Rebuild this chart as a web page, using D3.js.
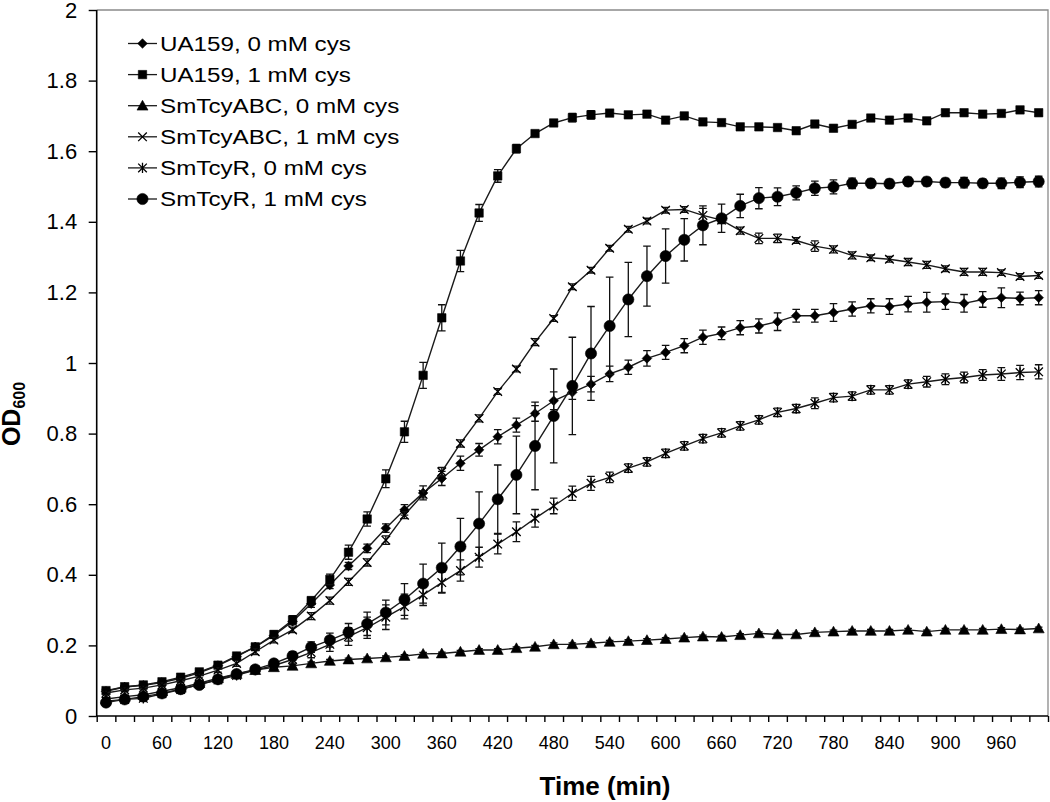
<!DOCTYPE html>
<html><head><meta charset="utf-8">
<script src="https://cdn.jsdelivr.net/npm/d3@7"></script>
<style>
html,body{margin:0;padding:0;background:#fff;}
svg text{font-family:"Liberation Sans",Arial,sans-serif;fill:#000;}
</style></head>
<body><svg id="chart" width="1050" height="802"></svg>
<script>
// ---------- data ----------
const times = d3.range(0, 1001, 20); // minutes, 51 categories
const xTickLabels = [0,60,120,180,240,300,360,420,480,540,600,660,720,780,840,900,960];
const yTickValues = [0,0.2,0.4,0.6,0.8,1,1.2,1.4,1.6,1.8,2];
const seriesNames = ["UA159, 0 mM cys","UA159, 1 mM cys","SmTcyABC, 0 mM cys","SmTcyABC, 1 mM cys","SmTcyR, 0 mM cys","SmTcyR, 1 mM cys"];
const seriesMarkers = ["diamond","square","triangle","times","star","circle"];

const ua159_0 = [0.070,0.082,0.087,0.095,0.107,0.122,0.143,0.168,0.196,0.228,0.268,0.318,0.371,0.425,0.475,0.532,0.584,0.632,0.673,0.716,0.754,0.791,0.824,0.857,0.893,0.917,0.940,0.969,0.988,1.013,1.030,1.049,1.073,1.084,1.100,1.105,1.117,1.134,1.134,1.143,1.153,1.162,1.160,1.167,1.172,1.174,1.169,1.180,1.185,1.183,1.185];
const ua159_0_err = [0.005,0.005,0.005,0.005,0.005,0.005,0.005,0.006,0.006,0.008,0.010,0.010,0.010,0.010,0.012,0.012,0.015,0.020,0.020,0.020,0.018,0.020,0.020,0.022,0.025,0.020,0.022,0.022,0.020,0.022,0.020,0.020,0.020,0.018,0.020,0.020,0.025,0.018,0.018,0.025,0.020,0.020,0.022,0.022,0.028,0.022,0.025,0.022,0.028,0.018,0.020];

const ua159_1 = [0.072,0.083,0.088,0.097,0.110,0.125,0.144,0.170,0.196,0.231,0.272,0.327,0.387,0.464,0.558,0.672,0.805,0.965,1.128,1.289,1.425,1.530,1.607,1.650,1.680,1.695,1.703,1.708,1.703,1.705,1.688,1.700,1.683,1.681,1.669,1.669,1.667,1.658,1.677,1.665,1.676,1.694,1.688,1.694,1.686,1.709,1.709,1.705,1.707,1.717,1.709];
const ua159_1_err = [0.005,0.005,0.005,0.005,0.005,0.005,0.005,0.005,0.008,0.010,0.012,0.010,0.015,0.020,0.020,0.025,0.030,0.037,0.037,0.030,0.024,0.018,0.012,0.008,0.008,0.012,0.012,0.008,0.008,0.008,0.008,0.008,0.008,0.008,0.008,0.008,0.008,0.008,0.008,0.008,0.008,0.008,0.008,0.008,0.008,0.008,0.008,0.008,0.008,0.008,0.008];

const abc_0 = [0.048,0.055,0.060,0.070,0.080,0.093,0.107,0.119,0.130,0.138,0.142,0.149,0.156,0.160,0.163,0.166,0.170,0.176,0.177,0.182,0.187,0.187,0.192,0.196,0.203,0.203,0.206,0.210,0.212,0.215,0.218,0.222,0.225,0.224,0.229,0.234,0.231,0.231,0.237,0.239,0.241,0.241,0.241,0.244,0.239,0.244,0.244,0.244,0.246,0.245,0.248];
const abc_0_err = times.map(() => 0.004);

const abc_1 = [0.065,0.074,0.079,0.088,0.100,0.113,0.130,0.149,0.182,0.215,0.244,0.283,0.327,0.380,0.435,0.498,0.569,0.628,0.692,0.772,0.843,0.919,0.983,1.059,1.126,1.216,1.263,1.325,1.379,1.402,1.433,1.435,1.418,1.405,1.375,1.353,1.353,1.347,1.331,1.322,1.305,1.298,1.294,1.286,1.278,1.267,1.258,1.258,1.256,1.245,1.248];
const abc_1_err = [0.005,0.005,0.005,0.005,0.005,0.005,0.006,0.008,0.008,0.008,0.008,0.010,0.010,0.010,0.010,0.012,0.010,0.010,0.012,0.010,0.010,0.008,0.008,0.010,0.008,0.008,0.008,0.008,0.008,0.008,0.008,0.008,0.020,0.010,0.010,0.015,0.012,0.008,0.015,0.010,0.010,0.008,0.008,0.010,0.010,0.008,0.010,0.010,0.008,0.008,0.008];

const r_0 = [0.042,0.047,0.050,0.063,0.075,0.090,0.102,0.115,0.130,0.143,0.160,0.180,0.203,0.225,0.250,0.280,0.310,0.343,0.378,0.412,0.450,0.487,0.522,0.560,0.595,0.631,0.659,0.676,0.702,0.720,0.744,0.765,0.786,0.802,0.822,0.839,0.860,0.871,0.886,0.902,0.906,0.924,0.924,0.940,0.947,0.954,0.959,0.966,0.969,0.973,0.975];
const r_0_err = [0.008,0.008,0.008,0.008,0.008,0.008,0.008,0.008,0.008,0.008,0.010,0.015,0.020,0.025,0.030,0.035,0.035,0.030,0.030,0.030,0.028,0.028,0.028,0.025,0.022,0.020,0.020,0.015,0.012,0.012,0.012,0.012,0.012,0.012,0.012,0.012,0.012,0.012,0.015,0.012,0.012,0.012,0.012,0.012,0.015,0.015,0.015,0.015,0.018,0.020,0.020];

const r_1 = [0.038,0.047,0.055,0.064,0.076,0.088,0.104,0.119,0.132,0.149,0.170,0.195,0.215,0.237,0.261,0.293,0.330,0.375,0.420,0.480,0.545,0.614,0.683,0.765,0.850,0.935,1.027,1.105,1.180,1.246,1.303,1.349,1.390,1.410,1.445,1.467,1.471,1.482,1.495,1.499,1.509,1.509,1.508,1.514,1.514,1.511,1.511,1.509,1.509,1.512,1.514];
const r_1_err = [0.006,0.006,0.006,0.006,0.006,0.006,0.006,0.006,0.006,0.010,0.012,0.015,0.020,0.025,0.033,0.035,0.045,0.055,0.070,0.080,0.090,0.097,0.110,0.124,0.133,0.138,0.133,0.138,0.105,0.085,0.077,0.060,0.055,0.040,0.033,0.030,0.025,0.020,0.020,0.020,0.015,0.012,0.012,0.012,0.012,0.012,0.015,0.012,0.015,0.015,0.015];

const seriesValues = [ua159_0, ua159_1, abc_0, abc_1, r_0, r_1];
const seriesErrors = [ua159_0_err, ua159_1_err, abc_0_err, abc_1_err, r_0_err, r_1_err];

// ---------- layout ----------
const svg = d3.select("#chart");
const L = 96.7, R = 1048, T = 10, B = 716;

const x = d3.scaleBand().domain(times).range([L, R]).padding(0);
const cx = t => x(t) + x.bandwidth() / 2;
const xEdge = d3.scaleLinear().domain([0, times.length]).range([L, R]);
const y = d3.scaleLinear().domain([0, 2]).range([B, T]);

// frame (top / right, grey)
svg.append("path")
  .attr("d", `M${L},${T}H${R}V${B}`)
  .attr("fill", "none").attr("stroke", "#8a8a8a").attr("stroke-width", 1.3);

// x axis tick marks between categories
const gxt = svg.append("g").attr("transform", `translate(0,${B})`)
  .call(d3.axisBottom(xEdge).tickValues(d3.range(0, times.length + 1)).tickSize(6).tickFormat(""));
gxt.select(".domain").remove();
gxt.selectAll("line").attr("stroke", "#000").attr("stroke-width", 1.4);

// x labels
const gxl = svg.append("g").attr("transform", `translate(0,${B})`)
  .call(d3.axisBottom(x).tickValues(xTickLabels).tickSize(0).tickPadding(20.5));
gxl.select(".domain").remove();
gxl.selectAll("text").attr("font-size", 18).attr("font-family", "Liberation Sans, Arial, sans-serif");

// y axis
const gy = svg.append("g").attr("transform", `translate(${L},0)`)
  .call(d3.axisLeft(y).tickValues(yTickValues).tickSize(8).tickPadding(11.5)
    .tickFormat(d => String(+d.toFixed(1))));
gy.select(".domain").remove();
gy.selectAll("line").attr("stroke", "#000").attr("stroke-width", 1.4);
gy.selectAll("text").attr("font-size", 22).attr("font-family", "Liberation Sans, Arial, sans-serif");

// axis lines
svg.append("path").attr("d", `M${L},${T}V${B}H${R}`)
  .attr("fill", "none").attr("stroke", "#000").attr("stroke-width", 1.6);

// ---------- marker shapes ----------
function markerPath(type) {
  const p = d3.path();
  if (type === "diamond") { const s = 4.8; p.moveTo(0,-s); p.lineTo(s,0); p.lineTo(0,s); p.lineTo(-s,0); p.closePath(); }
  else if (type === "square") { const s = 4.2; p.rect(-s,-s,2*s,2*s); }
  else if (type === "triangle") { p.moveTo(0,-5.4); p.lineTo(5.5,4.4); p.lineTo(-5.5,4.4); p.closePath(); }
  else if (type === "circle") { p.arc(0,0,5.6,0,2*Math.PI); }
  else if (type === "times") { const s = 4.3; p.moveTo(-s,-s); p.lineTo(s,s); p.moveTo(-s,s); p.lineTo(s,-s); }
  else if (type === "star") { const s = 4.3; p.moveTo(-s,-s); p.lineTo(s,s); p.moveTo(-s,s); p.lineTo(s,-s); p.moveTo(0,-s-0.8); p.lineTo(0,s+0.8); }
  return p.toString();
}
const strokeOnly = t => t === "times" || t === "star";

// ---------- series ----------
const line = d3.line().x(d => cx(d.t)).y(d => y(d.v));
seriesValues.forEach((vals, si) => {
  const data = times.map((t, i) => ({t, v: vals[i], e: seriesErrors[si][i]}));
  const g = svg.append("g");
  // error bars
  const eb = g.append("g").attr("stroke", "#111").attr("stroke-width", 1.3).attr("fill", "none");
  eb.selectAll("path").data(data).join("path")
    .attr("d", d => {
      const xc = cx(d.t), y1 = y(d.v + d.e), y2 = y(d.v - d.e), c = 3.8;
      return `M${xc},${y1}V${y2}M${xc-c},${y1}H${xc+c}M${xc-c},${y2}H${xc+c}`;
    });
  // line
  g.append("path").datum(data).attr("d", line)
    .attr("fill", "none").attr("stroke", "#1a1a1a").attr("stroke-width", 1.4);
  // markers
  const type = seriesMarkers[si];
  g.append("g").selectAll("path").data(data).join("path")
    .attr("transform", d => `translate(${cx(d.t)},${y(d.v)})`)
    .attr("d", markerPath(type))
    .attr("fill", strokeOnly(type) ? "none" : "#000")
    .attr("stroke", "#000")
    .attr("stroke-width", strokeOnly(type) ? 1.3 : 0.6);
});

// ---------- legend ----------
const legend = svg.append("g");
const legY0 = 43.5, legDy = 31.1;
seriesNames.forEach((name, i) => {
  const yy = legY0 + i * legDy;
  const gi = legend.append("g").attr("transform", `translate(0,${yy})`);
  gi.append("line").attr("x1", 128).attr("x2", 157).attr("y1", 0).attr("y2", 0)
    .attr("stroke", "#1a1a1a").attr("stroke-width", 1.3);
  const type = seriesMarkers[i];
  gi.append("path").attr("transform", "translate(142.5,0)")
    .attr("d", markerPath(type))
    .attr("fill", strokeOnly(type) ? "none" : "#000")
    .attr("stroke", "#000").attr("stroke-width", strokeOnly(type) ? 1.3 : 0.6);
  const tx = gi.append("text").attr("x", 160).attr("y", 0).attr("dy", "0.36em")
    .attr("font-size", 20.5).text(name);
  const w = tx.node().getComputedTextLength();
  tx.attr("textLength", w * 1.18).attr("lengthAdjust", "spacingAndGlyphs");
});

// ---------- axis titles ----------
svg.append("text").attr("x", 605).attr("y", 795).attr("text-anchor", "middle")
  .attr("font-size", 26).attr("font-weight", "bold").text("Time (min)");

const yt = svg.append("text").attr("transform", "translate(19.5,414) rotate(-90)")
  .attr("text-anchor", "middle").attr("font-size", 25).attr("font-weight", "bold");
yt.append("tspan").text("OD");
yt.append("tspan").attr("font-size", 16).attr("dy", 5).text("600");
</script>
</body></html>
